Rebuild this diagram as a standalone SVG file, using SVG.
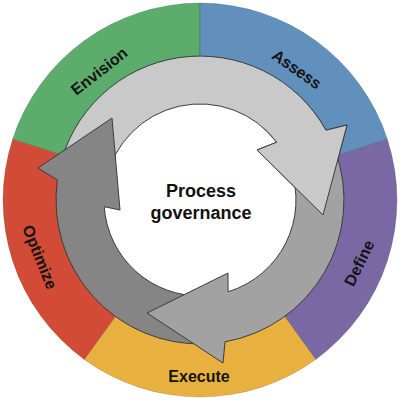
<svg xmlns="http://www.w3.org/2000/svg" width="400" height="400" viewBox="0 0 400 400">
  <defs>
    <style>
      .seg { stroke: rgba(0,0,0,0.18); stroke-width: 0.8; }
      .lbl { font-family: "Liberation Sans", Arial, sans-serif; font-weight: bold; font-size: 16px; fill: #141414; text-anchor: middle; }
      .arrow { stroke: #3c3c3c; stroke-width: 1; stroke-linejoin: miter; }
      .center { font-family: "Liberation Sans", Arial, sans-serif; font-weight: bold; font-size: 18px; fill: #111; text-anchor: middle; }
    </style>
    <clipPath id="lightHeadClip">
      <path d="M200,200 L328.6,46.8 L400,40 L400,290 L381.3,284.5 Z"/>
    </clipPath>
    <path id="lightArrow" d="M59.15,170.06 A144,144 0 0 1 325.9,130.2 L347,125 L323,215 L257,150 L276.7,142.2 A96,96 0 0 0 106.1,180.04 Z"/>
  </defs>
  <rect width="400" height="400" fill="#ffffff"/>

  <g id="seg-envision">
    <path class="seg" fill="#5cac6c" d="M12.64,139.13 A197,197 0 0 1 200,3 L200,60 A140,140 0 0 0 66.85,156.74 Z"/>
    <text class="lbl" transform="translate(99,71) rotate(-38)" dy="0.36em">Envision</text>
  </g>
  <g id="seg-assess">
    <path class="seg" fill="#6190bc" d="M200,3 A197,197 0 0 1 387.36,139.13 L333.15,156.74 A140,140 0 0 0 200,60 Z"/>
    <text class="lbl" transform="translate(297,69) rotate(35)" dy="0.36em">Assess</text>
  </g>
  <g id="seg-define">
    <path class="seg" fill="#7968a4" d="M387.36,139.13 A197,197 0 0 1 315.8,359.4 L282.3,313.3 A140,140 0 0 0 333.15,156.74 Z"/>
    <text class="lbl" transform="translate(359,263) rotate(-64)" dy="0.36em">Define</text>
  </g>
  <g id="seg-execute">
    <path class="seg" fill="#e8b13f" d="M315.8,359.4 A197,197 0 0 1 84.2,359.4 L117.7,313.3 A140,140 0 0 0 282.3,313.3 Z"/>
    <text class="lbl" x="199" y="382">Execute</text>
  </g>
  <g id="seg-optimize">
    <path class="seg" fill="#d14b36" d="M84.2,359.4 A197,197 0 0 1 12.64,139.13 L66.85,156.74 A140,140 0 0 0 117.7,313.3 Z"/>
    <text class="lbl" transform="translate(40,257) rotate(68)" dy="0.36em">Optimize</text>
  </g>

  <g id="arrows">
    <use href="#lightArrow" class="arrow" fill="#c9c9c9"/>
    <path class="arrow" fill="#858585" d="M205,343.9 A144,144 0 0 1 57.4,179.96 L38,168 L112,118 L120,210 L104.2,206.7 A96,96 0 0 0 203.35,295.9 Z"/>
    <path class="arrow" fill="#a2a2a2" d="M335.3,150.75 A144,144 0 0 1 225,341.8 L223,363 L147,313 L228,273 L228.1,291.8 A96,96 0 0 0 290.2,167.2 Z"/>
    <use href="#lightArrow" class="arrow" fill="#c9c9c9" clip-path="url(#lightHeadClip)"/>
  </g>

  <g id="center">
    <text class="center" x="201" y="197">Process</text>
    <text class="center" x="201" y="219">governance</text>
  </g>
</svg>
